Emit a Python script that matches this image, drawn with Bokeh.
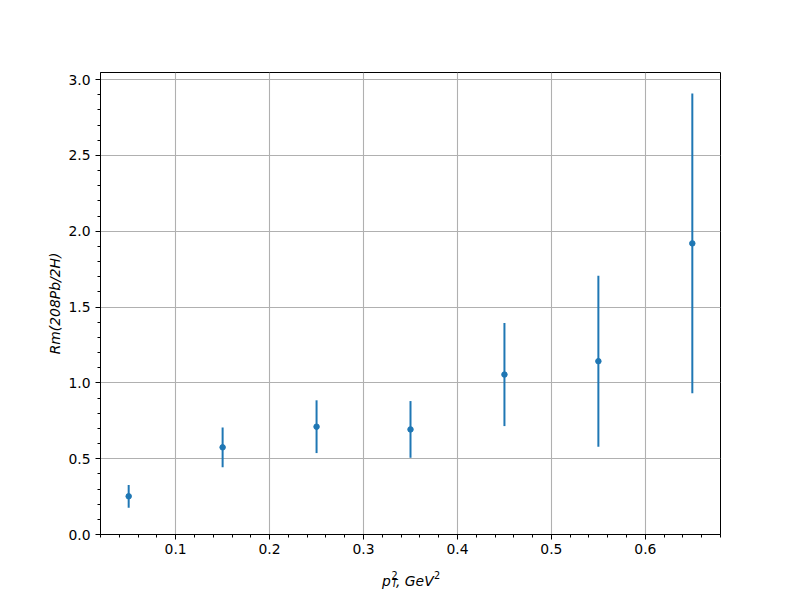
from bokeh.plotting import figure
from bokeh.models import SingleIntervalTicker, NumeralTickFormatter, Range1d
from bokeh.layouts import column
from bokeh.core.properties import value
from bokeh.embed import file_html
from bokeh.resources import INLINE

# ---- data ----
pt2 = [0.05, 0.15, 0.25, 0.35, 0.45, 0.55, 0.65]
rm = [0.252, 0.575, 0.711, 0.693, 1.055, 1.143, 1.920]
rm_err = [0.075, 0.131, 0.174, 0.187, 0.340, 0.564, 0.989]
y_label = "Rm(208Pb/2H)"
x_label_parts = ["p", "2", "T", ", GeV", "2"]

lower = [v - e for v, e in zip(rm, rm_err)]
upper = [v + e for v, e in zip(rm, rm_err)]

BLUE = "#1f77b4"
FONT = "DejaVu Sans"
FS = "13.9px"
W = 784
LEFT, FW = 100, 620

x0, x1 = 0.02, 0.68
y0, y1 = 0.0, 3.047

p = figure(
    output_backend="svg", toolbar_location=None,
    frame_width=FW, frame_height=462,
    min_border_left=LEFT, min_border_right=W - LEFT - FW, min_border_top=72, min_border_bottom=28,
    x_range=Range1d(x0, x1), y_range=Range1d(y0, y1),
    background_fill_color="white", border_fill_color="white",
)

p.segment(x0=pt2, y0=lower, x1=pt2, y1=upper, line_color=BLUE, line_width=2)
p.scatter(pt2, rm, size=5.5, color=BLUE, line_color=BLUE)

# axes / ticks
p.xaxis.ticker = SingleIntervalTicker(interval=0.1, num_minor_ticks=5)
p.yaxis.ticker = SingleIntervalTicker(interval=0.5, num_minor_ticks=5)
p.xaxis.formatter = NumeralTickFormatter(format="0.0")
p.yaxis.formatter = NumeralTickFormatter(format="0.0")
for ax in (p.xaxis, p.yaxis):
    ax.major_tick_out = 5
    ax.major_tick_in = 0
    ax.minor_tick_out = 3
    ax.minor_tick_in = 0
    ax.major_tick_line_color = "black"
    ax.minor_tick_line_color = "black"
    ax.axis_line_color = "black"
    ax.major_label_text_font = FONT
    ax.major_label_text_font_size = FS
    ax.major_label_text_color = "black"
    ax.major_label_standoff = 5
    ax.axis_label_text_font = FONT
    ax.axis_label_text_font_size = FS
    ax.axis_label_text_font_style = "italic"
    ax.axis_label_text_color = "black"
p.xaxis.major_label_standoff = 4

p.yaxis.axis_label = y_label
p.yaxis.axis_label_standoff = 2

p.grid.grid_line_color = "#b0b0b0"
p.grid.grid_line_width = 1.1
p.outline_line_color = "black"
p.outline_line_width = 1

# ---- x-axis label strip (p_T^2, GeV^2) in page-pixel coordinates ----
TOP = 72 + 462 + 28
H = 30
lab = figure(
    output_backend="svg", toolbar_location=None,
    frame_width=FW, frame_height=H,
    min_border_left=LEFT, min_border_right=W - LEFT - FW, min_border_top=0, min_border_bottom=0,
    x_range=Range1d(LEFT, LEFT + FW), y_range=Range1d(TOP + H, TOP),
    x_axis_type=None, y_axis_type=None,
    background_fill_color="white", border_fill_color="white",
)
lab.outline_line_color = None

piece_x = [381.5, 391, 391, 395.5, 433.5]
piece_y = [580, 574, 582.5, 580, 574]
piece_size = [FS, "9.7px", "9.7px", FS, "9.7px"]
piece_style = ["italic", "normal", "italic", "italic", "normal"]
for t, xx, yy, sz, st in zip(x_label_parts, piece_x, piece_y, piece_size, piece_style):
    lab.text(x=[xx], y=[yy], text=[t], text_font=value(FONT), text_font_size=sz,
             text_font_style=st, text_baseline="alphabetic", text_align="left",
             text_color="black")

layout = column(p, lab, spacing=0)
open("out.html", "w").write(file_html(layout, INLINE))
